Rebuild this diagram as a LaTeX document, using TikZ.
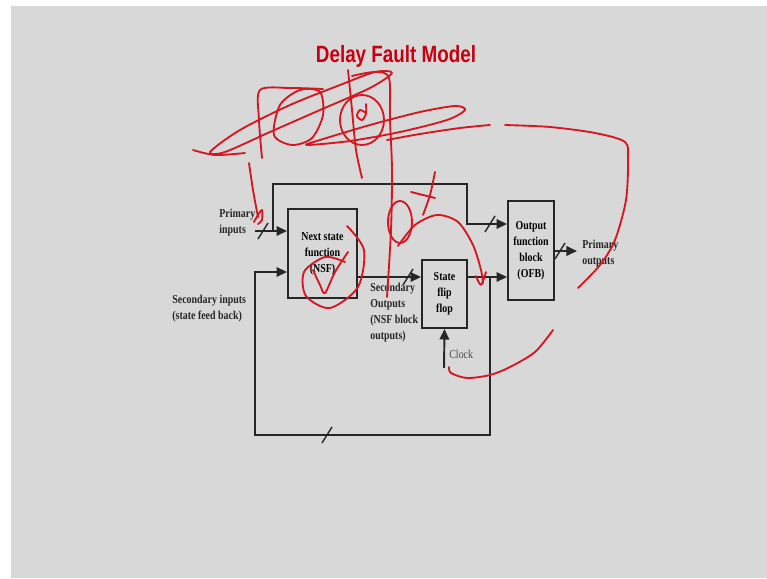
\documentclass[tikz,border=0pt]{standalone}
\usepackage{fontspec}
\setmainfont[FakeStretch=0.82]{Liberation Serif}
\newfontfamily\titlefont[FakeStretch=0.8]{Liberation Sans}
\usetikzlibrary{arrows.meta,positioning}
\definecolor{slidegray}{RGB}{216,216,216}
\definecolor{titlered}{RGB}{200,0,16}
\definecolor{inkred}{RGB}{214,22,32}
\newcommand{\lblfont}{\fontsize{6.9}{9.1}\selectfont\bfseries}
\tikzset{
  block/.style={draw=black!85,line width=1.1pt,align=center,font=\lblfont,inner sep=0pt},
  wire/.style={draw=black!85,line width=1.1pt},
  feed/.style={wire,-{Triangle[length=6pt,width=5.4pt]}},
  lbl/.style={font=\lblfont,align=left,inner sep=0pt,text=black!85},
  ink/.style={draw=inkred,line width=1.05pt,line cap=round,line join=round}
}
\newcommand{\busmark}[1]{\draw[wire,line width=0.8pt] (#1) ++(-5,8) -- ++(10,-16);}
\begin{document}
\begin{tikzpicture}[x=0.02cm,y=-0.02cm]
    \fill[white] (0,0) rectangle (767,578);
    \fill[slidegray] (11,6) rectangle (767,578);
    \useasboundingbox (0,0) rectangle (767,578);
    \node[anchor=base,text=titlered,font=\titlefont\fontsize{13.4}{16}\selectfont\bfseries] (title) at (396,62) {Delay Fault Model};
    % blocks
    \node[block,minimum width=1.38cm,minimum height=1.78cm] (nsf) at (322.5,253.5) {Next state\\function\\(NSF)};
    \node[block,minimum width=0.9cm,minimum height=1.36cm] (sff) at (444.5,294) {State\\flip\\flop};
    \node[block,minimum width=0.92cm,minimum height=1.98cm] (ofb) at (531,250.5) {Output\\function\\block\\(OFB)};
    % wires
    \coordinate (pin) at (255,231);
    \coordinate (tap) at (273,231);
    \coordinate (topr) at (467,224);
    \coordinate (lvl) at (0,277);
    \coordinate (fbk) at (490,277);
    \coordinate (sin) at (255,272);
    \coordinate (pout) at (577,251);
    \coordinate (clk) at (444,368);
    \draw[feed] (pin) -- (pin -| nsf.west);
    \draw[feed] (tap) -- ++(0,-47) -| (topr) -- (topr -| ofb.west);
    \draw[feed] (nsf.east |- lvl) -- (sff.west |- lvl);
    \draw[feed] (sff.east |- lvl) -- (ofb.west |- lvl);
    \draw[feed] (fbk) -- ++(0,158) -| (sin) -- (sin -| nsf.west);
    \draw[feed] (ofb.east |- pout) -- (pout);
    \draw[feed] (clk) -- (sff.south);
    \busmark{263,231}
    \busmark{408,277}
    \busmark{490,224}
    \busmark{560,251}
    \busmark{327,435}
    % labels
    \node[lbl,anchor=west] (pinlbl) at (219,223) {Primary\\inputs};
    \node[lbl,anchor=west] (sinlbl) at (172,309) {Secondary inputs\\(state feed back)};
    \node[lbl,anchor=west] (soutlbl) at (370,312.5) {Secondary\\Outputs\\(NSF block\\outputs)};
    \node[lbl,anchor=west] (poutlbl) at (582,254) {Primary\\outputs};
    \node[lbl,anchor=west,font=\fontsize{6.9}{9.1}\selectfont,text=black!70] (clklbl) at (449,354) {Clock};
    % red pen strokes
    \draw[ink] plot[smooth cycle] coordinates {(210,152) (240,130) (290,105) (340,85) (375,72) (392,73) (370,88) (320,110) (270,132) (225,152)};
    \draw[ink] plot[smooth] coordinates {(193,150) (215,155) (245,153)};
    \draw[ink] plot[smooth] coordinates {(262,158) (259,120) (260,90) (290,88) (323,89)};
    \draw[ink] plot[smooth cycle] coordinates {(274,135) (280,105) (300,90) (320,92) (323,115) (312,138) (292,145)};
    \draw[ink] plot[smooth cycle] coordinates {(307,145) (350,141) (400,132) (447,120) (465,110) (455,106) (420,112) (370,125) (320,140)};
    \draw[ink] (362,120) ellipse [x radius=0.44cm,y radius=0.5cm];
    \draw[ink] plot[smooth] coordinates {(366,113) (360,110) (357,116) (362,120) (366,114) (366,104)};
    \draw[ink] plot[smooth] coordinates {(348,70) (352,110) (356,150) (362,178)};
    \draw[ink] plot[smooth] coordinates {(352,76) (375,72) (389,78) (390,120) (392,170) (391,230) (387,297)};
    \draw[ink] plot[smooth] coordinates {(387,140) (420,134) (460,128) (490,125)};
    \draw[ink] plot[smooth] coordinates {(505,125) (550,127) (595,133) (625,142) (628,160) (626,200) (615,240) (600,265) (578,288)};
    \draw[ink] plot[smooth] coordinates {(249,163) (253,190) (258,217)};
    \draw[ink] plot[smooth] coordinates {(254,222) (258,215) (262,210) (262,220) (258,224)};
    \draw[ink] plot[smooth] coordinates {(435,172) (430,195) (423,215)};
    \draw[ink] (411,192) -- (435,198);
    \draw[ink] (400,222) ellipse [x radius=0.24cm,y radius=0.42cm];
    \draw[ink] plot[smooth] coordinates {(398,246) (415,225) (437,215) (458,222) (473,245) (481,270) (483,283)};
    \draw[ink] plot[smooth] coordinates {(476,276) (481,285) (486,272)};
    \draw[ink] plot[smooth] coordinates {(347,226) (364,250) (358,287) (330,308) (306,296) (304,272) (325,257) (345,262)};
    \draw[ink] plot[smooth] coordinates {(313,270) (320,285) (325,293) (335,272) (348,252)};
    \draw[ink] plot[smooth] coordinates {(553,330) (535,352) (510,367) (490,375) (467,378) (451,373) (449,367)};
\end{tikzpicture}
\end{document}
